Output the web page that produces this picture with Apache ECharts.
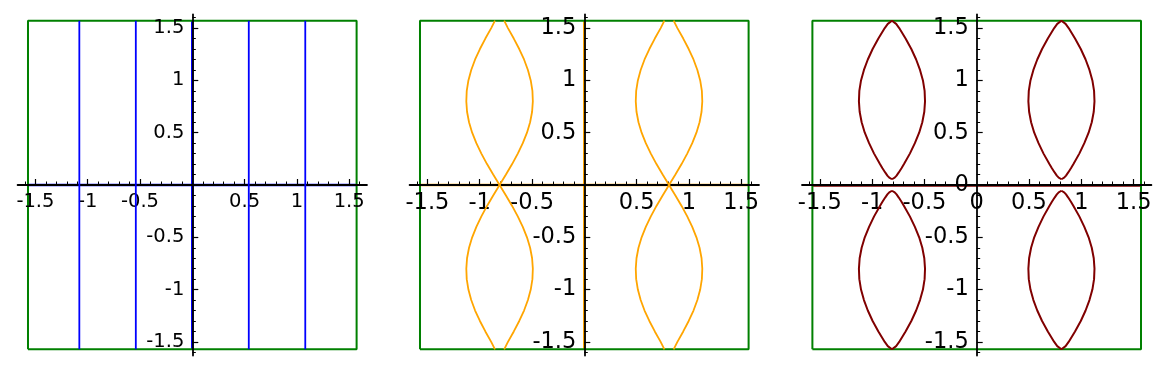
<!DOCTYPE html>
<html><head><meta charset="utf-8">
<script src="https://cdn.jsdelivr.net/npm/echarts@6/dist/echarts.min.js"></script>
<style>html,body{margin:0;padding:0;background:#fff}#c{width:1169px;height:372px}</style>
</head><body><div id="c"></div>
<script>
// ---------- data ----------
const majorTickValues = [-1.5, -1, -0.5, 0.5, 1, 1.5];
const labelsNoZero = [-1.5, -1, -0.5, 0.5, 1, 1.5];
const labelsWithZero = [-1.5, -1, -0.5, 0, 0.5, 1, 1.5];
const minorTickValues = [-1.6,-1.4,-1.3,-1.2,-1.1,-0.9,-0.8,-0.7,-0.6,-0.4,-0.3,-0.2,-0.1,
                         0.1,0.2,0.3,0.4,0.6,0.7,0.8,0.9,1.1,1.2,1.3,1.4,1.6];
const frameLow = -1.5708, frameHigh = 1.5708;

// panel 1 (blue): vertical lines, plus lines lying on the axes
const blueVerticalX = [-1.08, -0.54, 0.54, 1.08];
const blueOnAxisX = [0];
const blueOnAxisY = [0];

// panel 2 (orange): crossing curves, half-width profile of each lens vs |y|
const orangeRowsY = [0, 0.1, 0.2, 0.3, 0.4, 0.5, 0.6, 0.7, 0.8, 0.9, 1.0, 1.1, 1.2, 1.3, 1.4, 1.5, 1.5708];
const orangeHalfWidth = [0, 0.061, 0.120, 0.174, 0.222, 0.262, 0.292, 0.311, 0.318, 0.314, 0.298, 0.271, 0.234, 0.188, 0.136, 0.080, 0.044];
const orangeCentersX = [-0.81, 0.81];
const orangeOnAxisX = [0];
const orangeOnAxisY = [0];

// panel 3 (dark red): closed lenses, half-width profile vs |y|
const redRowsY = [0.055, 0.07, 0.09, 0.12, 0.16, 0.2, 0.3, 0.4, 0.5, 0.6, 0.7, 0.8, 0.9, 1.0, 1.1, 1.2, 1.3, 1.4, 1.5, 1.54, 1.57];
const redHalfWidth = [0, 0.026, 0.044, 0.065, 0.091, 0.115, 0.171, 0.219, 0.260, 0.290, 0.309, 0.316, 0.312, 0.296, 0.268, 0.231, 0.185, 0.130, 0.069, 0.040, 0];
const redCentersX = [-0.81, 0.81];
const redSidesY = [1, -1];
const redOnAxisY = [-0.008];

// ---------- layout / style ----------
const AX = 1.67, AY = 1.63, PX = 104.6;
const panelCenterX = [192.3, 584.3, 976.7];
const centerY = 185;
const fontSizes = [19.5, 22.5, 22.5];
const panelLabels = [labelsNoZero, labelsNoZero, labelsWithZero];
const GREEN = '#008000', BLUE = '#0000ff', ORANGE = '#ffa500', DARKRED = '#800000';

const grids = [], xAxes = [], yAxes = [], series = [];
panelCenterX.forEach((cx, p) => {
  grids.push({left: cx - AX * PX, width: 2 * AX * PX, top: centerY - AY * PX, height: 2 * AY * PX,
    containLabel: false, outerBoundsMode: 'none'});
  const font = {fontFamily: 'DejaVu Sans', fontSize: fontSizes[p], color: '#000'};
  const xOff = -AY * PX, yOff = -AX * PX;
  // major axes
  xAxes.push({gridIndex: p, type: 'value', min: -AX, max: AX, position: 'bottom', offset: xOff, z: 3,
    axisLine: {onZero: false, lineStyle: {color: '#000', width: 1.8}},
    axisTick: {inside: true, length: 6, customValues: majorTickValues, lineStyle: {color: '#000', width: 1.2}},
    axisLabel: Object.assign({customValues: panelLabels[p], margin: 7}, font),
    splitLine: {show: false}});
  xAxes.push({gridIndex: p, type: 'value', min: -AX, max: AX, position: 'bottom', offset: xOff, z: 3,
    axisLine: {show: false, onZero: false},
    axisTick: {inside: true, length: 3.5, customValues: minorTickValues, lineStyle: {color: '#000', width: 1}},
    axisLabel: {show: false}, splitLine: {show: false}});
  yAxes.push({gridIndex: p, type: 'value', min: -AY, max: AY, position: 'left', offset: yOff, z: 3,
    axisLine: {onZero: false, lineStyle: {color: '#000', width: 1.8}},
    axisTick: {inside: true, length: 6, customValues: majorTickValues, lineStyle: {color: '#000', width: 1.2}},
    axisLabel: Object.assign({customValues: panelLabels[p], margin: 8}, font),
    splitLine: {show: false}});
  yAxes.push({gridIndex: p, type: 'value', min: -AY, max: AY, position: 'left', offset: yOff, z: 3,
    axisLine: {show: false, onZero: false},
    axisTick: {inside: true, length: 3.5, customValues: minorTickValues, lineStyle: {color: '#000', width: 1}},
    axisLabel: {show: false}, splitLine: {show: false}});
});

function addLine(p, data, color, width, z) {
  series.push({type: 'line', xAxisIndex: 2 * p, yAxisIndex: 2 * p, data: data, showSymbol: false,
    symbol: 'none', silent: true, animation: false, z: z, clip: false,
    lineStyle: {color: color, width: width}});
}
function vline(x) { return [[x, frameLow], [x, frameHigh]]; }
function hline(y) { return [[frameLow, y], [frameHigh, y]]; }

// panel 1
blueOnAxisX.forEach(x => addLine(0, vline(x), BLUE, 2.6, 1));
blueOnAxisY.forEach(y => addLine(0, hline(y), BLUE, 2.6, 1));
blueVerticalX.forEach(x => addLine(0, vline(x), BLUE, 1.8, 4));

// panel 2
orangeOnAxisX.forEach(x => addLine(1, vline(x), ORANGE, 2.6, 1));
orangeOnAxisY.forEach(y => addLine(1, hline(y), ORANGE, 2.6, 1));
orangeCentersX.forEach(c => {
  [1, -1].forEach(s => {
    const pts = [];
    for (let i = orangeRowsY.length - 1; i >= 1; i--) pts.push([c + s * orangeHalfWidth[i], -orangeRowsY[i]]);
    for (let i = 0; i < orangeRowsY.length; i++) pts.push([c - s * orangeHalfWidth[i], orangeRowsY[i]]);
    addLine(1, pts, ORANGE, 1.8, 4);
  });
});

// panel 3
redOnAxisY.forEach(y => addLine(2, hline(y), DARKRED, 1.6, 1));
redCentersX.forEach(c => {
  redSidesY.forEach(d => {
    const pts = [];
    for (let i = 0; i < redRowsY.length; i++) pts.push([c - redHalfWidth[i], d * redRowsY[i]]);
    for (let i = redRowsY.length - 2; i >= 0; i--) pts.push([c + redHalfWidth[i], d * redRowsY[i]]);
    addLine(2, pts, DARKRED, 2, 4);
  });
});

// frames
[0, 1, 2].forEach(p => addLine(p, [[frameLow, frameLow], [frameHigh, frameLow], [frameHigh, frameHigh],
  [frameLow, frameHigh], [frameLow, frameLow]], GREEN, 2, 2));

const chart = echarts.init(document.getElementById('c'), null, {renderer: 'canvas'});
chart.setOption({animation: false, grid: grids, xAxis: xAxes, yAxis: yAxes, series: series});
</script></body></html>
